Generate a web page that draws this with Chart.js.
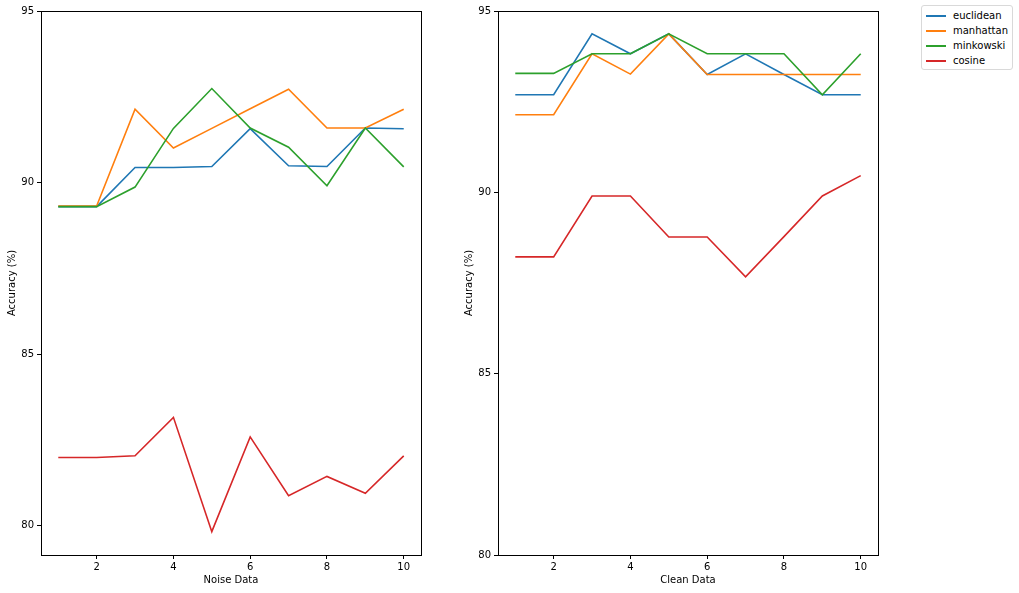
<!DOCTYPE html>
<html>
<head>
<meta charset="utf-8">
<script src="https://cdn.jsdelivr.net/npm/chart.js@4/dist/chart.umd.min.js"></script>
<style>
  body { margin: 0; background: #fff; width: 1019px; height: 593px; overflow: hidden; position: relative; font-family: 'DejaVu Sans', sans-serif; }
  .plot { position: absolute; top: 0; }
  #legend { position: absolute; left: 921px; top: 5px; width: 92px; height: 65px; border: 1px solid #d9d9d9; border-radius: 3px; box-sizing: border-box; font-size: 10px; color: #000; }
  #legend div { position: absolute; left: 0; height: 12px; line-height: 12px; white-space: nowrap; }
  #legend span.swatch { position: absolute; left: 4px; top: 5px; width: 20px; height: 0; border-top: 2px solid; }
  #legend span.label { position: absolute; left: 31px; top: 0; }
</style>
</head>
<body>
<div class="plot" style="left:0px"><canvas id="noiseChart" width="450" height="593"></canvas></div>
<div class="plot" style="left:457px"><canvas id="cleanChart" width="450" height="593"></canvas></div>
<div id="legend"></div>
<script>
const runs = [1, 2, 3, 4, 5, 6, 7, 8, 9, 10];
const metricNames = ['euclidean', 'manhattan', 'minkowski', 'cosine'];
const metricColors = ['#1f77b4', '#ff7f0e', '#2ca02c', '#d62728'];

// Noise data accuracy per metric
const noiseEuclidean = [89.30, 89.30, 90.44, 90.44, 90.47, 91.57, 90.49, 90.47, 91.59, 91.57];
const noiseManhattan = [89.32, 89.32, 92.14, 91.01, 91.58, 92.15, 92.72, 91.59, 91.59, 92.14];
const noiseMinkowski = [89.30, 89.30, 89.87, 91.58, 92.74, 91.59, 91.03, 89.91, 91.59, 90.46];
const noiseCosine = [81.99, 81.99, 82.04, 83.16, 79.83, 82.59, 80.88, 81.44, 80.95, 82.04];

// Clean data accuracy per metric
const cleanEuclidean = [92.69, 92.69, 94.37, 93.82, 94.37, 93.25, 93.82, 93.25, 92.69, 92.69];
const cleanManhattan = [92.14, 92.14, 93.82, 93.26, 94.37, 93.25, 93.25, 93.25, 93.25, 93.25];
const cleanMinkowski = [93.28, 93.28, 93.82, 93.82, 94.37, 93.82, 93.82, 93.82, 92.69, 93.82];
const cleanCosine = [88.22, 88.22, 89.90, 89.90, 88.77, 88.77, 87.67, 88.78, 89.90, 90.46];

const xTicks = [2, 4, 6, 8, 10];
const noiseYTicks = [80, 85, 90, 95];
const cleanYTicks = [80, 85, 90, 95];

const tickFont = { family: 'DejaVu Sans', size: 10 };

// draw top/right spines like matplotlib
const frameBox = {
    id: 'frameBox',
    afterDraw(chart) {
        const a = chart.chartArea;
        const ctx = chart.ctx;
        ctx.save();
        ctx.strokeStyle = '#000';
        ctx.lineWidth = 1;
        ctx.strokeRect(Math.round(a.left) + 0.5, Math.round(a.top) + 0.5, Math.round(a.right - a.left), Math.round(a.bottom - a.top));
        ctx.restore();
    }
};

function buildChart(canvasId, seriesList, xTitle, yMin, yTicks, rightPad) {
    const datasets = seriesList.map((values, i) => ({
        label: metricNames[i],
        data: runs.map((r, j) => ({ x: r, y: values[j] })),
        borderColor: metricColors[i],
        backgroundColor: metricColors[i],
        borderWidth: 1.6,
        pointRadius: 0,
        tension: 0,
        fill: false,
        order: seriesList.length - i
    }));

    return new Chart(document.getElementById(canvasId), {
        type: 'line',
        data: { datasets: datasets },
        options: {
            responsive: false,
            animation: false,
            layout: { padding: { top: 11, right: rightPad, bottom: 0, left: 0 } },
            plugins: { legend: { display: false }, tooltip: { enabled: false } },
            scales: {
                x: {
                    type: 'linear',
                    min: 0.55,
                    max: 10.45,
                    afterBuildTicks: axis => { axis.ticks = xTicks.map(v => ({ value: v })); },
                    afterFit: axis => { axis.height = 38; },
                    grid: { drawOnChartArea: false, drawTicks: true, tickLength: 4, color: '#000' },
                    border: { display: true, color: '#000' },
                    ticks: { font: tickFont, color: '#000', padding: 2, maxRotation: 0 },
                    title: { display: true, text: xTitle, font: tickFont, color: '#000', padding: { top: 0, bottom: 7 } }
                },
                y: {
                    min: yMin,
                    max: 95,
                    afterBuildTicks: axis => { axis.ticks = yTicks.map(v => ({ value: v })); },
                    afterFit: axis => { axis.width = 41; },
                    grid: { drawOnChartArea: false, drawTicks: true, tickLength: 4, color: '#000' },
                    border: { display: true, color: '#000' },
                    ticks: { font: tickFont, color: '#000', padding: 3 },
                    title: { display: true, text: 'Accuracy (%)', font: tickFont, color: '#000', padding: { top: 6, bottom: 0 } }
                }
            }
        },
        plugins: [frameBox]
    });
}

buildChart('noiseChart', [noiseEuclidean, noiseManhattan, noiseMinkowski, noiseCosine], 'Noise Data', 79.15, noiseYTicks, 29);
buildChart('cleanChart', [cleanEuclidean, cleanManhattan, cleanMinkowski, cleanCosine], 'Clean Data', 80, cleanYTicks, 29);

// legend box outside the right plot
const legendEl = document.getElementById('legend');
metricNames.forEach((name, i) => {
    const row = document.createElement('div');
    row.style.top = (4 + i * 15) + 'px';
    row.innerHTML = '<span class="swatch" style="border-color:' + metricColors[i] + '"></span><span class="label">' + name + '</span>';
    legendEl.appendChild(row);
});
</script>
</body>
</html>
